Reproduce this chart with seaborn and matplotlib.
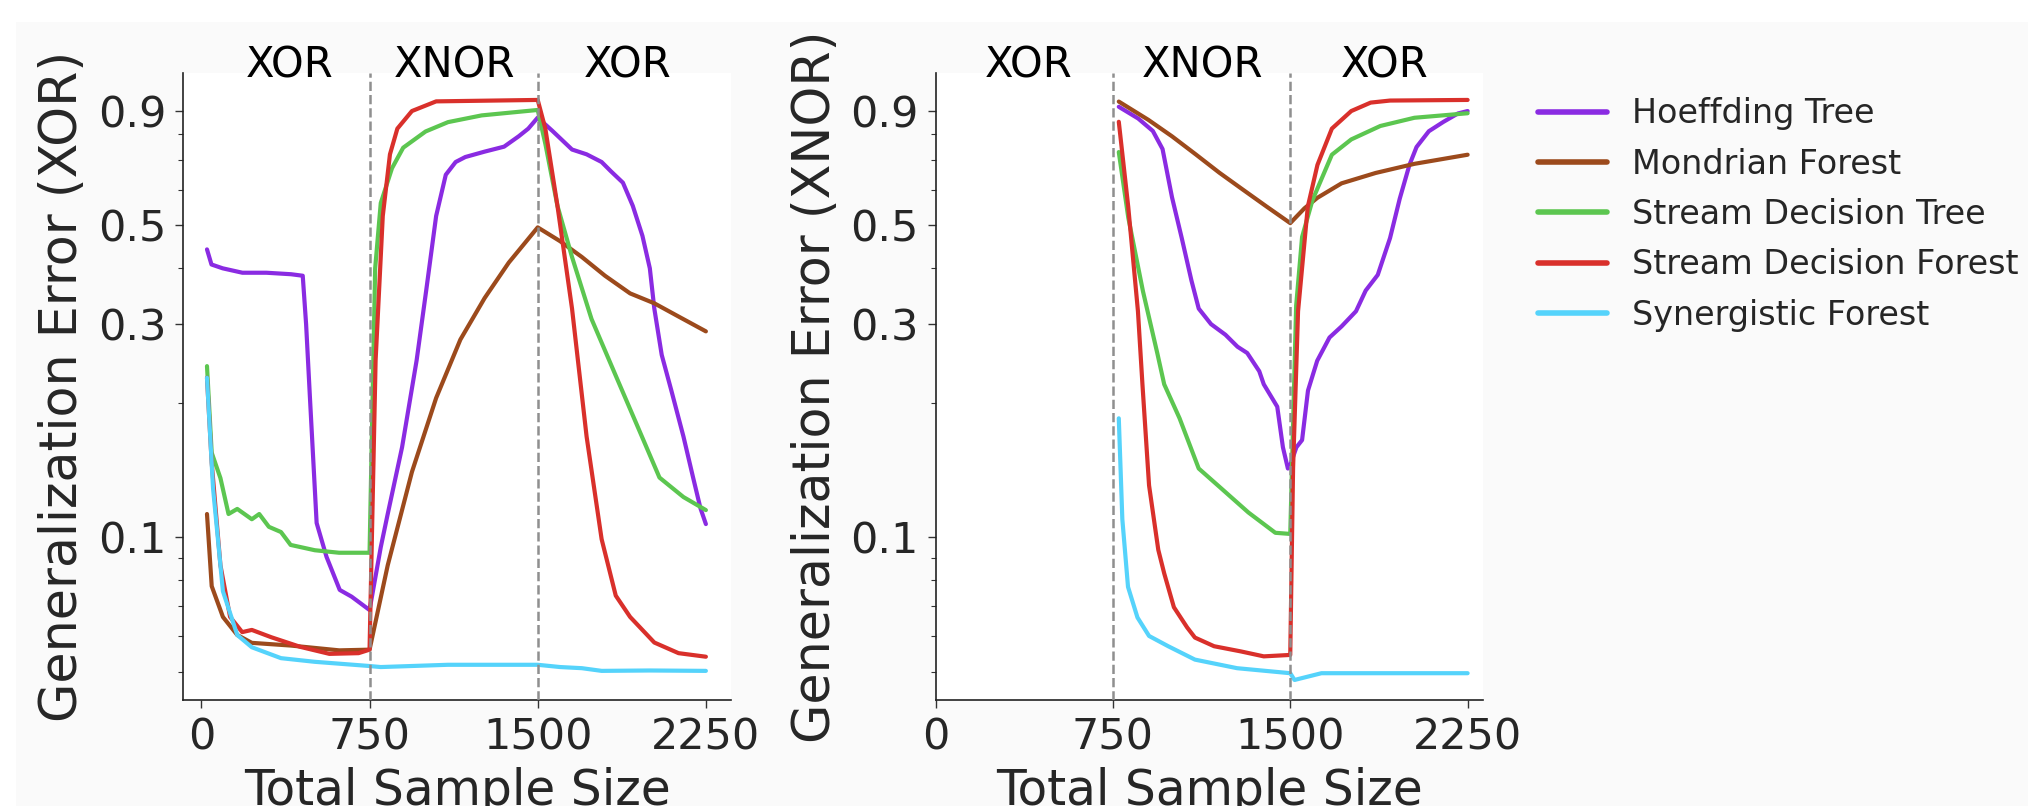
import numpy as np
import pandas as pd
import matplotlib
matplotlib.use("Agg")
import matplotlib.pyplot as plt
import seaborn as sns
from matplotlib.patches import Rectangle
from matplotlib.ticker import NullFormatter, FixedLocator, FixedFormatter

# ---------------- data ----------------
models = ["Hoeffding Tree", "Mondrian Forest", "Stream Decision Tree",
          "Stream Decision Forest", "Synergistic Forest"]
colors = ["#8a2be2", "#9c4a1c", "#5cc650", "#d9302b", "#55d3fb"]

phase_labels = ["XOR", "XNOR", "XOR"]
phase_label_x = [395, 1130, 1900]
phase_bounds = [750, 1500]

xticks = [0, 750, 1500, 2250]
yticks = [0.1, 0.3, 0.5, 0.9]
ytick_labels = ["0.1", "0.3", "0.5", "0.9"]

# ---- left panel: generalization error on XOR ----
x_ht_xor = [25, 45, 95, 183, 290, 400, 452, 467, 485, 514, 558, 617, 670, 750,
            800, 831, 895, 960, 1004, 1047, 1090, 1134, 1177, 1263, 1350, 1415, 1458,
            1500, 1566, 1653, 1718, 1785, 1826, 1880, 1924, 1967, 2000, 2020, 2053,
            2096, 2150, 2193, 2226, 2250]
ht_xor = [0.441, 0.408, 0.400, 0.391, 0.391, 0.388, 0.385, 0.300, 0.2015, 0.1076,
          0.0904, 0.0762, 0.0736, 0.0687,
          0.095, 0.1127, 0.159, 0.249, 0.361, 0.524, 0.648, 0.692, 0.710, 0.730,
          0.749, 0.790, 0.822, 0.870,
          0.812, 0.738, 0.720, 0.692, 0.660, 0.622, 0.552, 0.473, 0.400, 0.325,
          0.256, 0.213, 0.168, 0.136, 0.116, 0.107]

x_mf_xor = [25, 46, 96, 160, 225, 399, 615, 750, 831, 939, 1047, 1155, 1263,
            1371, 1500, 1600, 1697, 1800, 1912, 2020, 2128, 2250]
mf_xor = [0.1127, 0.0777, 0.0663, 0.0604, 0.058, 0.0572, 0.0558, 0.056,
          0.0865, 0.14, 0.205, 0.277, 0.343, 0.412, 0.494, 0.46, 0.424, 0.385,
          0.3515, 0.334, 0.312, 0.289]

x_sdt_xor = [25, 46, 85, 121, 160, 225, 258, 301, 355, 398, 506, 614, 750, 775,
             800, 850, 900, 1000, 1100, 1250, 1500, 1534, 1588, 1653, 1740, 1848,
             1956, 2043, 2150, 2250]
sdt_xor = [0.2416, 0.1546, 0.1356, 0.1127, 0.1157, 0.1097, 0.1127, 0.1055, 0.1027,
           0.0961, 0.0935, 0.0923, 0.0923, 0.40, 0.56, 0.67, 0.745, 0.81, 0.85,
           0.88, 0.905, 0.76, 0.552, 0.424, 0.308, 0.23, 0.172, 0.136, 0.123, 0.115]

x_sdf_xor = [25, 46, 85, 128, 182, 225, 312, 442, 571, 701, 750, 777, 809, 841,
             874, 939, 1047, 1500, 1534, 1588, 1653, 1718, 1785, 1848, 1912, 2020,
             2128, 2250]
sdf_xor = [0.2276, 0.1468, 0.0865, 0.0663, 0.0613, 0.062, 0.0597, 0.0568, 0.0548,
           0.055, 0.056, 0.249, 0.524, 0.72, 0.822, 0.90, 0.946, 0.953, 0.822,
           0.552, 0.325, 0.168, 0.099, 0.074, 0.0663, 0.0581, 0.055, 0.054]

x_sf_xor = [25, 52, 96, 160, 225, 355, 506, 744, 800, 1100, 1500, 1600, 1697,
            1785, 2000, 2250]
sf_xor = [0.2276, 0.1286, 0.0757, 0.0604, 0.0567, 0.0536, 0.0526, 0.0515, 0.0512,
          0.0518, 0.0518, 0.0512, 0.0509, 0.0502, 0.0503, 0.0502]

# ---- right panel: generalization error on XNOR ----
x_ht_xnor = [775, 857, 919, 960, 1000, 1041, 1082, 1113, 1165, 1226, 1277, 1318,
             1369, 1388, 1445, 1469, 1490, 1500, 1526, 1550, 1575, 1614, 1666, 1717,
             1778, 1819, 1870, 1922, 1963, 2004, 2034, 2086, 2147, 2209, 2250]
ht_xnor = [0.92, 0.866, 0.812, 0.74, 0.577, 0.468, 0.376, 0.325, 0.30, 0.284,
           0.267, 0.2585, 0.2353, 0.22, 0.196, 0.159, 0.1425, 0.145, 0.159, 0.165,
           0.213, 0.2484, 0.280, 0.2965, 0.3206, 0.3567, 0.3867, 0.4676, 0.5729,
           0.6818, 0.7476, 0.811, 0.8507, 0.8888, 0.90]

x_mf_xnor = [775, 900, 1000, 1100, 1200, 1300, 1400, 1500, 1560, 1615, 1717, 1861,
             2025, 2250]
mf_xnor = [0.945, 0.86, 0.79, 0.72, 0.655, 0.60, 0.55, 0.505, 0.545, 0.5755, 0.62,
           0.654, 0.6855, 0.7185]

x_sdt_xnor = [775, 815, 877, 938, 967, 1032, 1113, 1194, 1323, 1437, 1500, 1525,
              1550, 1594, 1676, 1758, 1881, 2025, 2250]
sdt_xnor = [0.7285, 0.52, 0.3558, 0.258, 0.22, 0.1846, 0.1425, 0.1306, 0.1136,
            0.1023, 0.1017, 0.33, 0.47, 0.5685, 0.7185, 0.7775, 0.8333, 0.8693,
            0.8898]

x_sdf_xnor = [775, 815, 856, 875, 903, 942, 967, 1008, 1064, 1097, 1178, 1291,
              1388, 1500, 1512, 1533, 1574, 1615, 1676, 1758, 1840, 1922, 2250]
sdf_xnor = [0.8515, 0.549, 0.3206, 0.22, 0.1306, 0.0937, 0.083, 0.0697, 0.0628,
            0.0596, 0.057, 0.0555, 0.0541, 0.0545, 0.143, 0.3206, 0.549, 0.6818,
            0.822, 0.90, 0.94, 0.95, 0.953]

x_sf_xnor = [775, 790, 814, 854, 903, 984, 1097, 1275, 1500, 1518, 1632, 2250]
sf_xnor = [0.1846, 0.1097, 0.0774, 0.0661, 0.0601, 0.0570, 0.0532, 0.0509, 0.0496,
           0.0479, 0.0496, 0.0496]


def long_frame(xs, ys):
    rows = []
    for m, xv, yv in zip(models, xs, ys):
        for a, b in zip(xv, yv):
            rows.append((m, a, b))
    return pd.DataFrame(rows, columns=["Model", "Total Sample Size", "Error"])


df_xor = long_frame([x_ht_xor, x_mf_xor, x_sdt_xor, x_sdf_xor, x_sf_xor],
                    [ht_xor, mf_xor, sdt_xor, sdf_xor, sf_xor])
df_xnor = long_frame([x_ht_xnor, x_mf_xnor, x_sdt_xnor, x_sdf_xnor, x_sf_xnor],
                     [ht_xnor, mf_xnor, sdt_xnor, sdf_xnor, sf_xnor])

# ---------------- figure ----------------
sns.set_style("ticks")
plt.rcParams["font.family"] = ["DejaVu Sans"]

W, H = 2028, 806
fig = plt.figure(figsize=(W / 100, H / 100), dpi=100)
fig.patch.set_facecolor("white")
fig.add_artist(Rectangle((16 / W, 0), 1, (H - 22) / H, transform=fig.transFigure,
                         facecolor="#fafafa", edgecolor="none", zorder=-10))

ax1 = fig.add_axes([183 / W, (H - 700) / H, 548 / W, 627 / H])
ax2 = fig.add_axes([935.5 / W, (H - 700) / H, 547.5 / W, 627 / H])

palette = dict(zip(models, colors))
panels = [(ax1, df_xor, "Generalization Error (XOR)", (-82, 2362), (0.0432, 1.095)),
          (ax2, df_xnor, "Generalization Error (XNOR)", (0, 2315), (0.0432, 1.095))]

for ax, df, ylab, xl, yl in panels:
    ax.set_facecolor("white")
    sns.lineplot(data=df, x="Total Sample Size", y="Error", hue="Model",
                 hue_order=models, palette=palette, estimator=None, sort=True,
                 linewidth=3, ax=ax, legend=False)
    ax.set_yscale("log")
    ax.set_xlim(*xl)
    ax.set_ylim(*yl)
    ax.yaxis.set_major_locator(FixedLocator(yticks))
    ax.yaxis.set_major_formatter(FixedFormatter(ytick_labels))
    ax.yaxis.set_minor_formatter(NullFormatter())
    ax.set_xticks(xticks)
    ax.set_xticklabels([str(t) for t in xticks])
    for b in phase_bounds:
        ax.axvline(b, color="#8f8f8f", linestyle="--", linewidth=1.8, zorder=3)
    for lab, px in zip(phase_labels, phase_label_x):
        ax.text(px, 0.9936, lab, transform=ax.get_xaxis_transform(),
                ha="center", va="baseline", fontsize=30, color="black")
    ax.set_xlabel("Total Sample Size", fontsize=35, labelpad=6)
    ax.set_ylabel(ylab, fontsize=36.5, labelpad=7)
    ax.tick_params(axis="both", which="major", labelsize=31, length=6, width=1,
                   color="#333333", pad=6)
    ax.tick_params(axis="y", which="minor", length=3.5, width=0.8, color="#333333")
    for s in ["left", "bottom"]:
        ax.spines[s].set_linewidth(1.2)
        ax.spines[s].set_color("#222222")
    sns.despine(ax=ax)

handles = [plt.Line2D([], [], color=c, linewidth=4) for c in colors]
fig.legend(handles, models, loc="upper left", bbox_to_anchor=(1525 / W, 1 - 84 / H),
           frameon=False, fontsize=24, handlelength=2.05, handletextpad=0.75,
           labelspacing=0.52, borderaxespad=0)

fig.savefig("out.png", dpi=100, facecolor=fig.get_facecolor())
